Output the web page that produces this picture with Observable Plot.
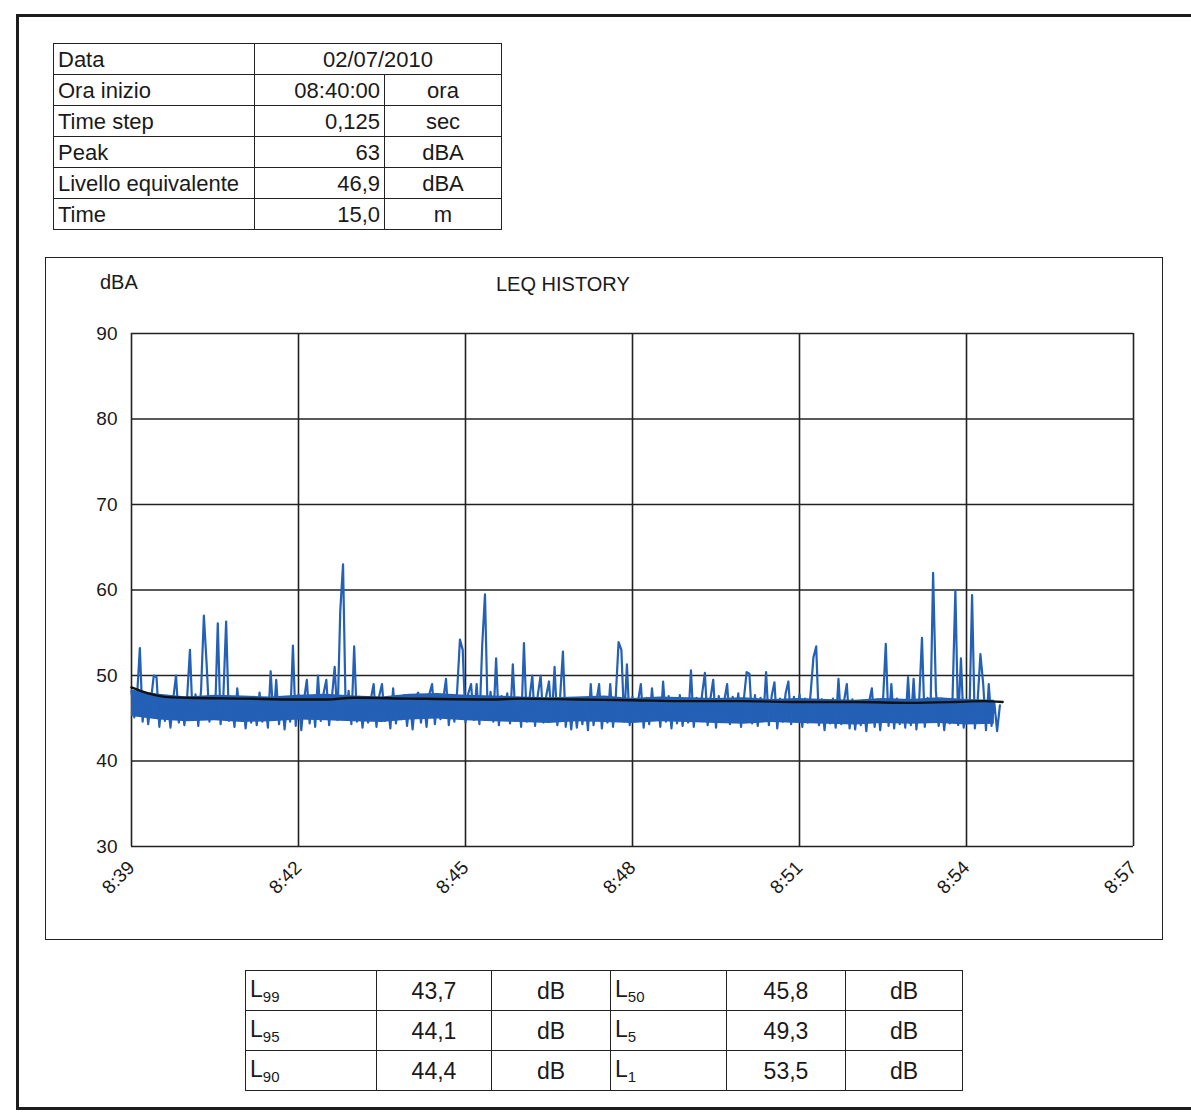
<!DOCTYPE html>
<html>
<head>
<meta charset="utf-8">
<script src="https://cdn.jsdelivr.net/npm/d3@7"></script>
<script src="https://cdn.jsdelivr.net/npm/@observablehq/plot@0.6"></script>
<style>
  html, body { margin: 0; padding: 0; background: #fff; }
  body { width: 1191px; height: 1113px; position: relative; overflow: hidden; font-family: "Liberation Sans", Arial, sans-serif; color: #1a1a1a; }
  .page { position: absolute; left: 16px; top: 14px; width: 1200px; height: 1096px; border: 3px solid #1d1d1d; border-right: none; box-sizing: border-box; }
  table { border-collapse: collapse; position: absolute; }
  td { border: 1.5px solid #222; padding: 0 4px; white-space: nowrap; }
  #info { left: 53px; top: 43px; font-size: 22px; }
  #info td { height: 29px; line-height: 28px; padding-top: 1px; padding-bottom: 0; }
  #info td.lab { width: 192px; text-align: left; }
  #info td.val { width: 121px; text-align: right; }
  #info td.unit { width: 108px; text-align: center; }
  #info td.span { text-align: center; }
  #stats { left: 245px; top: 970px; font-size: 23px; }
  #stats td { height: 37px; line-height: 36px; }
  #stats td.lab { width: 122px; text-align: left; }
  #stats td.val { width: 106px; text-align: center; }
  #stats td.unit { width: 110px; text-align: center; }
  #stats td.lab2 { width: 107px; text-align: left; }
  #stats td.val2 { width: 110px; text-align: center; }
  #stats td.unit2 { width: 108px; text-align: center; }
  sub { font-size: 15px; vertical-align: baseline; position: relative; top: 5px; }
  .frame { position: absolute; left: 45px; top: 257px; width: 1118px; height: 683px; border: 1.5px solid #222; box-sizing: border-box; }
  #chart { position: absolute; left: 45px; top: 257px; }
  .lbl { position: absolute; font-size: 20px; }
</style>
</head>
<body>
<div class="page"></div>
<table id="info"></table>
<div class="frame"></div>
<div class="lbl" style="left:100px; top:271px;">dBA</div>
<div class="lbl" style="left:496px; top:273px;">LEQ HISTORY</div>
<div id="chart"></div>
<table id="stats"></table>
<script>
// ---- header table ----
const infoLabels = ["Data", "Ora inizio", "Time step", "Peak", "Livello equivalente", "Time"];
const infoValues = ["02/07/2010", "08:40:00", "0,125", "63", "46,9", "15,0"];
const infoUnits  = [null, "ora", "sec", "dBA", "dBA", "m"];

// ---- percentile table ----
const statNames  = ["99", "95", "90", "50", "5", "1"];
const statValues = ["43,7", "44,1", "44,4", "45,8", "49,3", "53,5"];
const statUnit   = "dB";

// ---- chart axes ----
const xTicks = [39, 42, 45, 48, 51, 54, 57];           // minutes after 8:00
const xTickLabels = ["8:39", "8:42", "8:45", "8:48", "8:51", "8:54", "8:57"];
const yTicks = [30, 40, 50, 60, 70, 80, 90];
const startMinute = 39;       // first sample, minutes after 8:00
const sampleStepSec = 3;      // resampled step of the series
const bandStepSec = 30;       // step of the dense-core envelope

// ---- LEQ history (dBA), one value per sample step ----
const levels = [
  48.2,45.1,47.6,53.2,44.6,47.9,44.3,47.1,50.0,49.8,44.0,47.4,44.7,46.9,43.9,47.3,50.0,44.5,47.0,44.2,
  47.5,53.0,44.8,47.8,44.1,48.3,57.0,51.3,44.6,47.2,45.0,56.1,44.3,47.6,56.3,44.7,47.0,44.0,48.5,44.9,
  47.3,43.8,46.9,44.5,47.5,44.2,48.0,44.6,47.1,43.9,50.5,44.8,49.5,44.3,47.4,43.7,47.0,44.6,53.5,44.1,
  47.8,43.6,47.2,49.5,44.4,47.6,44.0,50.0,44.7,47.9,49.5,44.2,47.4,51.0,44.8,57.5,63.0,45.0,48.2,44.3,
  53.4,44.6,47.5,43.9,47.0,44.5,47.3,49.0,44.0,47.6,49.0,44.7,46.9,43.8,48.5,44.4,47.2,44.9,47.7,44.1,
  47.0,43.7,47.4,48.0,44.5,47.1,44.0,47.8,49.0,44.3,47.5,44.9,47.2,49.6,44.2,47.7,44.6,48.2,54.2,53.0,
  44.5,47.9,49.0,44.8,49.0,44.3,53.5,59.5,45.0,48.1,44.6,52.0,44.2,47.6,45.0,47.9,44.4,51.3,44.7,47.4,
  44.0,53.8,44.6,47.3,50.0,44.1,47.8,50.0,44.5,47.6,49.3,44.8,51.0,44.2,47.5,52.8,44.0,46.9,43.7,47.2,
  43.9,46.8,44.3,47.1,43.6,49.0,44.2,46.9,49.0,43.8,47.3,44.5,49.0,44.0,47.6,53.9,53.0,44.6,51.3,44.2,
  47.5,44.7,47.0,49.0,43.9,47.4,44.3,48.5,44.8,47.1,44.0,49.3,44.6,47.6,43.8,47.2,44.4,47.7,44.1,47.0,
  44.5,50.6,44.0,47.4,44.7,47.8,50.3,44.2,47.3,49.5,43.9,47.6,44.6,47.1,49.0,44.3,47.5,44.8,47.9,44.0,
  47.2,50.4,50.2,44.4,47.7,44.1,47.4,44.9,50.4,44.2,47.6,49.2,43.8,47.3,44.6,47.9,49.3,44.3,47.5,44.7,
  47.8,44.0,47.3,44.5,47.9,52.1,53.4,44.2,47.2,43.6,46.9,44.4,47.3,43.9,49.6,44.3,47.0,49.0,43.8,47.2,
  43.7,46.8,44.2,47.1,43.5,46.9,48.5,44.0,47.2,43.6,47.0,53.7,44.1,49.0,43.8,47.3,44.3,46.9,43.9,49.8,
  44.2,49.6,43.7,47.1,54.4,44.0,47.4,44.6,62.0,48.2,44.1,47.3,43.6,47.0,44.4,47.5,60.0,44.2,52.0,43.9,
  47.2,44.5,59.4,43.8,47.0,52.5,49.0,43.6,49.0,44.1,46.8,43.5,46.5
];

// ---- dense core of the trace (lower / upper edge), one value per band step ----
const bandLow  = [45.2,44.8,44.6,44.7,44.5,44.6,44.8,44.7,44.6,44.5,44.8,44.9,44.7,44.6,44.5,44.4,
                  44.6,44.5,44.4,44.6,44.5,44.4,44.3,44.5,44.4,44.3,44.2,44.4,44.3,44.4,44.2,44.3];
const bandHigh = [48.3,47.8,47.5,47.7,47.6,47.5,47.7,47.8,47.6,47.5,47.8,47.9,47.7,47.6,47.5,47.4,
                  47.5,47.6,47.3,47.5,47.4,47.3,47.4,47.2,47.3,47.2,47.1,47.3,47.2,47.4,47.2,47.1];

// ---- running equivalent level (black line) ----
const leqMinutes = [39.0, 39.3, 39.6, 40.0, 41.0, 42.0, 42.5, 43.0, 44.0, 45.5, 46.0, 47.0, 48.0, 49.0, 50.0, 51.0, 52.0, 53.0, 53.8, 54.3, 54.65];
const leqValues  = [48.6, 47.9, 47.5, 47.4, 47.3, 47.2, 47.2, 47.4, 47.3, 47.2, 47.3, 47.2, 47.1, 47.0, 47.0, 46.9, 46.9, 46.8, 46.9, 47.0, 46.9];

// ---- build tables ----
const info = document.getElementById("info");
infoLabels.forEach((lab, i) => {
  const tr = document.createElement("tr");
  if (infoUnits[i] === null) {
    tr.innerHTML = `<td class="lab">${lab}</td><td class="span" colspan="2">${infoValues[i]}</td>`;
  } else {
    tr.innerHTML = `<td class="lab">${lab}</td><td class="val">${infoValues[i]}</td><td class="unit">${infoUnits[i]}</td>`;
  }
  info.appendChild(tr);
});
const stats = document.getElementById("stats");
for (let r = 0; r < 3; r++) {
  const tr = document.createElement("tr");
  tr.innerHTML =
    `<td class="lab">L<sub>${statNames[r]}</sub></td><td class="val">${statValues[r]}</td><td class="unit">${statUnit}</td>` +
    `<td class="lab2">L<sub>${statNames[r + 3]}</sub></td><td class="val2">${statValues[r + 3]}</td><td class="unit2">${statUnit}</td>`;
  stats.appendChild(tr);
}

// ---- chart ----
const series = levels.map((v, i) => ({ t: startMinute + (i * sampleStepSec) / 60, v }));
const band = bandLow.map((lo, i) => ({ t: startMinute + (i * bandStepSec) / 60, lo, hi: bandHigh[i] }));
const leq = leqMinutes.map((t, i) => ({ t, v: leqValues[i] }));
const gridColor = "#222";
const blue = "#2360b6";

const chart = Plot.plot({
  width: 1118,
  height: 683,
  marginLeft: 86,
  marginRight: 30,
  marginTop: 76,
  marginBottom: 94,
  style: { fontFamily: "'Liberation Sans', Arial, sans-serif", fontSize: "19px", color: "#1a1a1a", background: "transparent", overflow: "visible" },
  x: { domain: [39, 57], ticks: xTicks, tickFormat: d => xTickLabels[xTicks.indexOf(d)], tickRotate: -45, tickSize: 0, tickPadding: 18, label: null },
  y: { domain: [30, 90], ticks: yTicks, tickSize: 0, tickPadding: 14, label: null },
  marks: [
    Plot.ruleY(yTicks, { stroke: gridColor, strokeWidth: 1.6 }),
    Plot.ruleX(xTicks, { stroke: gridColor, strokeWidth: 1.6 }),
    Plot.areaY(band, { x: "t", y1: "lo", y2: "hi", fill: blue, curve: "linear" }),
    Plot.line(series, { x: "t", y: "v", stroke: blue, strokeWidth: 2.2, curve: "linear" }),
    Plot.line(leq, { x: "t", y: "v", stroke: "#111", strokeWidth: 2.4, curve: "monotone-x" })
  ]
});
document.getElementById("chart").appendChild(chart);
</script>
</body>
</html>
